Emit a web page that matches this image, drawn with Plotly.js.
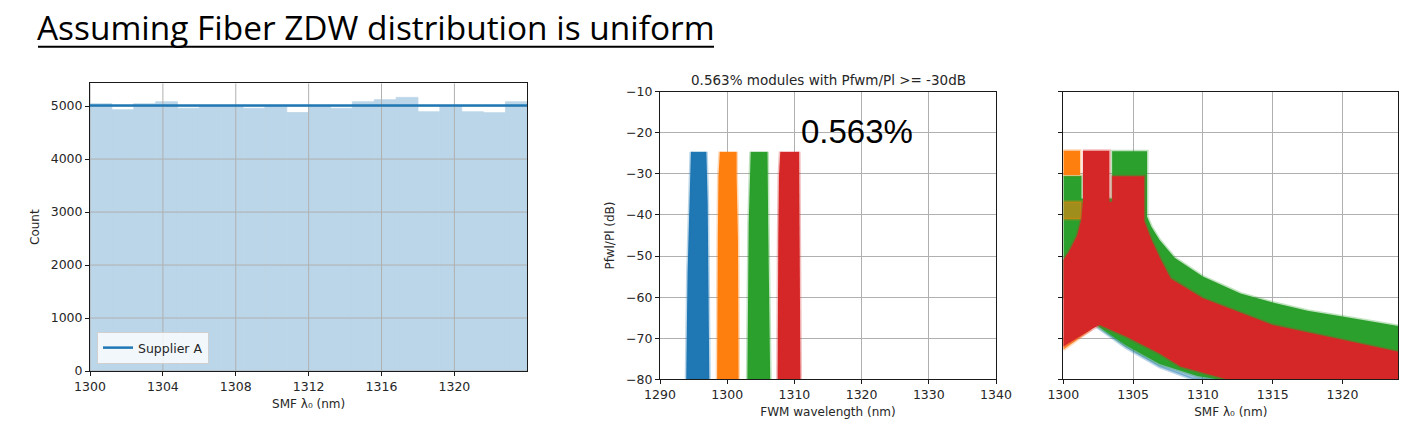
<!DOCTYPE html>
<html>
<head>
<meta charset="utf-8">
<script src="https://cdn.plot.ly/plotly-3.0.1.min.js"></script>
<style>
  html, body { margin: 0; padding: 0; background: #ffffff; }
  #chart { width: 1410px; height: 428px; }
</style>
</head>
<body>
<div id="chart"></div>
<script>
// ---------------- Data ----------------
// Panel 1: histogram of SMF zero-dispersion wavelength (uniform)
const histBinCenters = [1300.6, 1301.8, 1303.0, 1304.2, 1305.4, 1306.6, 1307.8, 1309.0, 1310.2, 1311.4,
                        1312.6, 1313.8, 1315.0, 1316.2, 1317.4, 1318.6, 1319.8, 1321.0, 1322.2, 1323.4];
const histCounts = [5044, 4932, 5044, 5082, 4960, 5008, 5004, 4958, 5006, 4878,
                    5006, 4958, 5082, 5120, 5164, 4893, 5010, 4893, 4876, 5082];
const histBinWidth = 1.2;
const supplierLineX = [1300, 1324];
const supplierLineY = [5013, 5013];
const histXTicks = [1300, 1304, 1308, 1312, 1316, 1320];
const histYTicks = [0, 1000, 2000, 3000, 4000, 5000];
const histXRange = [1300, 1324];
const histYRange = [0, 5430];

// Panel 2: FWM wavelength bands (envelopes of the scatter clouds)
const fwmBlueX   = [1294.6, 1294.5, 1294.4, 1294.2, 1294.1, 1293.97, 1293.9, 1297.34, 1297.3, 1297.2, 1297.2, 1297.1, 1297.0, 1296.9];
const fwmBlueY   = [-24.6, -30.7, -37.2, -42.9, -54.2, -70.4, -80, -80, -70.4, -54.2, -42.9, -37.2, -30.7, -24.6];
const fwmOrangeX = [1298.9, 1298.7, 1298.6, 1298.5, 1301.7, 1301.6, 1301.4, 1301.4];
const fwmOrangeY = [-24.6, -30.7, -46.0, -80, -80, -46.0, -30.7, -24.6];
const fwmGreenX  = [1303.5, 1303.4, 1303.2, 1303.0, 1306.4, 1306.1, 1306.0, 1306.0];
const fwmGreenY  = [-24.6, -30.7, -42.0, -80, -80, -42.0, -30.7, -24.6];
const fwmRedX    = [1307.9, 1307.7, 1307.6, 1307.5, 1310.9, 1310.8, 1310.8, 1310.7];
const fwmRedY    = [-24.6, -30.7, -46.0, -80, -80, -46.0, -30.7, -24.6];
const fwmLabel = "0.563%";
const fwmTitle = "0.563% modules with Pfwm/Pl >= -30dB";

// Panel 3: Pfwm/Pl vs SMF lambda0 (envelopes of the scatter clouds)
const smfBlueX = [1302.4, 1304.5, 1306.9, 1309.3, 1311.2, 1306.0, 1302.4];
const smfBlueY = [-67.2, -72.3, -77.0, -80, -80, -74, -67.2];
const smfGreenX = [1300, 1301.3, 1301.3, 1303.5, 1303.5, 1306.0, 1306.0, 1306.3, 1306.9, 1308.0, 1310, 1312.7,
                   1315, 1317.5, 1320, 1324, 1324, 1311, 1309.6, 1306.9, 1304.5, 1302.6, 1300];
const smfGreenY = [-30.5, -30.5, -36, -36, -24.5, -24.5, -40.4, -42.8, -46.1, -50.5, -55, -59.1,
                   -61.3, -63.3, -64.7, -67, -80, -80, -79.2, -76.3, -71.8, -67.4, -60];
const smfOrangeTopX = [1300, 1301.2, 1301.2, 1300];
const smfOrangeTopY = [-24.4, -24.4, -30.3, -30.3];
const smfOrangePatchX = [1300, 1301.3, 1301.3, 1300];
const smfOrangePatchY = [-36.8, -36.8, -41.0, -41.0];
const smfOrangeLowX = [1300, 1301.2, 1302.0, 1300];
const smfOrangeLowY = [-70.0, -68.6, -67.8, -72.8];
const smfRedX = [1301.4, 1303.3, 1303.3, 1303.5, 1303.5, 1305.8, 1305.8, 1306.3, 1307.0, 1307.7, 1310, 1315,
                 1320, 1324, 1324, 1311.7, 1308.4, 1306.9, 1304.5, 1302.6, 1302.15, 1300, 1300, 1300.4,
                 1301.0, 1301.3, 1301.4];
const smfRedY = [-24.4, -24.4, -36.8, -36.8, -30.6, -30.6, -41.5, -46.0, -51.0, -55.5, -60.3, -66.8,
                 -70.4, -73.3, -80, -80, -76.9, -73.7, -69.6, -66.8, -67.6, -72, -51, -49,
                 -45, -41, -37];

// ---------------- Styling helpers ----------------
const C = { blue: '#1f77b4', orange: '#ff7f0e', green: '#2ca02c', red: '#d62728' };
function rgba(col, a) {
  const m = { blue: [31,119,180], orange: [255,127,14], green: [44,160,44], red: [214,39,40] }[col];
  return 'rgba(' + m[0] + ',' + m[1] + ',' + m[2] + ',' + a + ')';
}
function band(x, y, col, xa, ya, fillAlpha) {
  return { type: 'scatter', mode: 'lines', x: x, y: y, xaxis: xa, yaxis: ya,
           fill: 'toself', fillcolor: fillAlpha ? rgba(col, fillAlpha) : C[col],
           line: { color: rgba(col, 0.3), width: 3 },
           showlegend: false, hoverinfo: 'skip' };
}

// grid lines for panel 1 are drawn over the translucent bars (as in matplotlib)
const gridX = [], gridXY = [];
histXTicks.forEach(t => { gridX.push(t, t, null); gridXY.push(histYRange[0], histYRange[1], null); });
const gridY = [], gridYX = [];
histYTicks.forEach(t => { gridYX.push(histXRange[0], histXRange[1], null); gridY.push(t, t, null); });

const gridCol = '#b0b0b0';
const barCol = 'rgb(187,214,232)';
const traces = [
  { type: 'bar', x: histBinCenters, y: histCounts, width: histBinWidth, xaxis: 'x', yaxis: 'y',
    marker: { color: barCol, line: { width: 0.8, color: barCol } }, showlegend: false, hoverinfo: 'skip' },
  { type: 'scatter', mode: 'lines', x: gridX.concat(gridYX), y: gridXY.concat(gridY), xaxis: 'x', yaxis: 'y',
    line: { color: gridCol, width: 1 }, showlegend: false, hoverinfo: 'skip' },
  { type: 'scatter', mode: 'lines', x: supplierLineX, y: supplierLineY, xaxis: 'x', yaxis: 'y',
    line: { color: C.blue, width: 2.5 }, name: 'Supplier A', showlegend: true },
  band(fwmBlueX, fwmBlueY, 'blue', 'x2', 'y2'),
  band(fwmOrangeX, fwmOrangeY, 'orange', 'x2', 'y2'),
  band(fwmGreenX, fwmGreenY, 'green', 'x2', 'y2'),
  band(fwmRedX, fwmRedY, 'red', 'x2', 'y2'),
  band(smfBlueX, smfBlueY, 'blue', 'x3', 'y3', 0.45),
  band(smfGreenX, smfGreenY, 'green', 'x3', 'y3'),
  band(smfOrangeTopX, smfOrangeTopY, 'orange', 'x3', 'y3'),
  band(smfOrangePatchX, smfOrangePatchY, 'orange', 'x3', 'y3', 0.55),
  band(smfOrangeLowX, smfOrangeLowY, 'orange', 'x3', 'y3', 0.8),
  band(smfRedX, smfRedY, 'red', 'x3', 'y3')
];

const tickFont = { family: 'DejaVu Sans', size: 12.5, color: '#262626' };
function axis(extra) {
  return Object.assign({
    showline: true, linecolor: '#1a1a1a', linewidth: 1, mirror: true,
    ticks: 'outside', ticklen: 4, tickwidth: 1, tickcolor: '#1a1a1a',
    showgrid: true, gridcolor: gridCol, gridwidth: 1, zeroline: false,
    tickfont: tickFont, automargin: false, fixedrange: true
  }, extra);
}
const titleFont = { size: 12, family: 'DejaVu Sans', color: '#262626' };

const H = 428, W = 1410;
const layout = {
  width: W, height: H,
  margin: { l: 0, r: 0, t: 0, b: 0 },
  paper_bgcolor: '#ffffff', plot_bgcolor: '#ffffff',
  font: { family: 'DejaVu Sans', color: '#262626' },
  showlegend: true,
  legend: { x: 97 / W, y: (H - 364) / H, xanchor: 'left', yanchor: 'bottom',
            bgcolor: 'rgba(255,255,255,0.8)', bordercolor: '#d0d0d0', borderwidth: 1,
            font: { family: 'DejaVu Sans', size: 12.5, color: '#262626' } },
  xaxis: axis({ domain: [90 / W, 527.3 / W], range: histXRange, tickvals: histXTicks, anchor: 'y', showgrid: false,
                title: { text: 'SMF λ₀ (nm)', font: titleFont, standoff: 6 } }),
  yaxis: axis({ domain: [(H - 371) / H, (H - 83.3) / H], range: histYRange, tickvals: histYTicks, anchor: 'x', showgrid: false,
                title: { text: 'Count', font: titleFont, standoff: 8 } }),
  xaxis2: axis({ domain: [660 / W, 996 / W], range: [1290, 1340], tick0: 1290, dtick: 10, anchor: 'y2',
                 title: { text: 'FWM wavelength (nm)', font: titleFont, standoff: 6 } }),
  yaxis2: axis({ domain: [(H - 379.3) / H, (H - 91.7) / H], range: [-80, -10], tick0: -80, dtick: 10, anchor: 'x2',
                 title: { text: 'Pfwl/Pl (dB)', font: titleFont, standoff: 8 } }),
  xaxis3: axis({ domain: [1063.3 / W, 1398.3 / W], range: [1300, 1324], tick0: 1300, dtick: 5, anchor: 'y3',
                 title: { text: 'SMF λ₀ (nm)', font: titleFont, standoff: 6 } }),
  yaxis3: axis({ domain: [(H - 379.3) / H, (H - 91.7) / H], range: [-80, -10], tick0: -80, dtick: 10, anchor: 'x3',
                 showticklabels: false }),
  annotations: [
    { text: 'Assuming Fiber ZDW distribution is uniform', xref: 'paper', yref: 'paper',
      x: 35 / W, y: (H - 27) / H, xanchor: 'left', yanchor: 'middle', showarrow: false,
      font: { family: 'Open Sans', size: 33.4, color: '#000000' } },
    { text: fwmTitle, xref: 'x2 domain', yref: 'paper', x: 0.5, y: (H - 80) / H,
      xanchor: 'center', yanchor: 'middle', showarrow: false,
      font: { family: 'DejaVu Sans', size: 13.5, color: '#262626' } },
    { text: fwmLabel, xref: 'x2', yref: 'y2', x: 1319.3, y: -19.7, xanchor: 'center', yanchor: 'middle',
      showarrow: false, font: { family: 'Liberation Sans', size: 33, color: '#000000' } }
  ],
  shapes: [
    { type: 'line', xref: 'paper', yref: 'paper', x0: 38 / W, x1: 714 / W, y0: (H - 46.7) / H, y1: (H - 46.7) / H,
      line: { color: '#000000', width: 2 } }
  ]
};

Plotly.newPlot('chart', traces, layout, { displayModeBar: false, staticPlot: true });
</script>
</body>
</html>
